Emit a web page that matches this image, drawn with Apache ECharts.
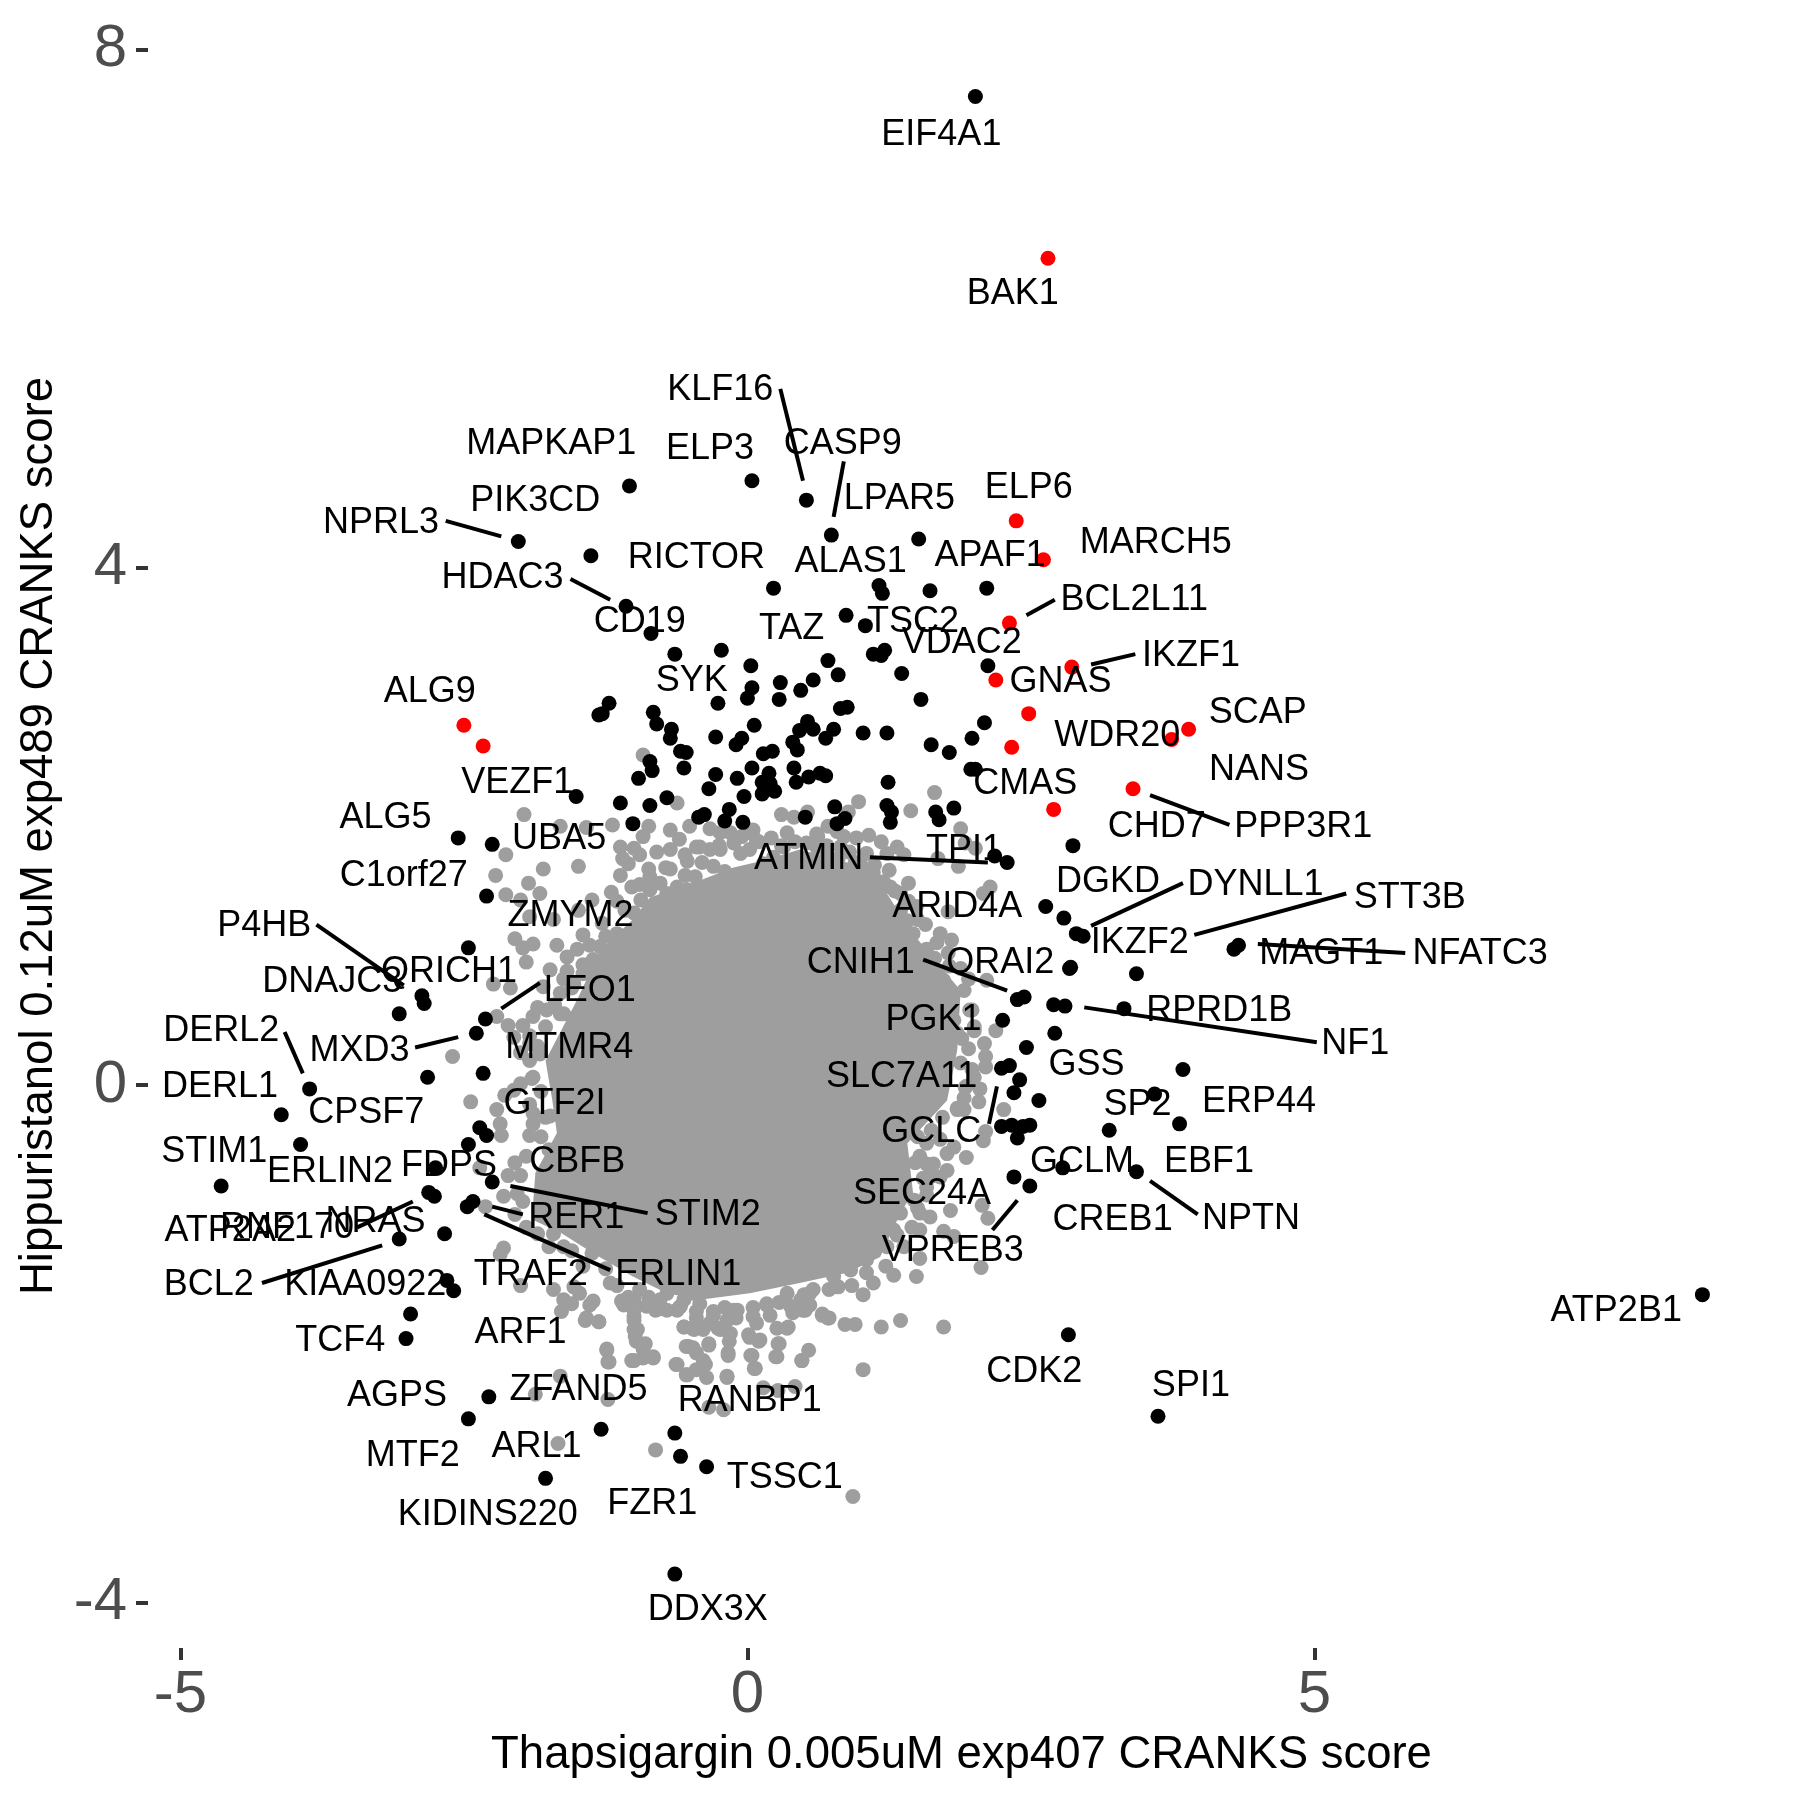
<!DOCTYPE html>
<html>
<head>
<meta charset="utf-8">
<script src="https://cdn.jsdelivr.net/npm/echarts@6/dist/echarts.min.js"></script>
<style>
  html, body { margin: 0; padding: 0; background: #fff; }
  #chart { width: 1800px; height: 1800px; }
</style>
</head>
<body>
<div id="chart"></div>
<script>
// axis ticks
const xTicks = [-5, 0, 5];
const yTicks = [-4, 0, 4, 8];

// hits highlighted in red
const redPoints = [
  [2.65,6.39],[2.37,4.36],[2.61,4.06],[2.31,3.57],[2.19,3.13],[2.86,3.23],[2.48,2.87],[2.33,2.61],
  [3.89,2.75],[3.74,2.67],[3.40,2.29],[2.70,2.13],[-2.50,2.78],[-2.33,2.62]
];

// other labelled / significant genes
const blackPoints = [
  [2.01,7.64],[-1.04,4.63],[0.04,4.67],[0.52,4.52],[0.74,4.25],[1.51,4.22],[-2.02,4.20],[-1.38,4.09],
  [0.23,3.84],[1.16,3.86],[1.19,3.80],[1.61,3.82],[2.11,3.84],
  [0.87,3.63],[1.04,3.55],[1.11,3.33],[1.18,3.32],[1.21,3.36],[1.36,3.18],[1.53,2.98],[2.12,3.24],
  [2.09,2.80],[1.98,2.68],[1.62,2.63],[1.78,2.57],[1.97,2.44],[2.01,2.44],[1.23,2.72],[1.02,2.72],
  [0.88,2.92],[0.82,2.91],[0.80,3.17],[0.71,3.28],[0.58,3.13],[0.47,3.05],[0.29,3.11],[0.28,2.98],
  [0.03,3.24],[0.04,3.07],[0.00,2.99],[-0.23,3.36],[-0.26,2.95],[0.06,2.78],[-0.28,2.69],[-0.05,2.68],
  [-0.10,2.63],[0.53,2.81],[0.46,2.74],[0.58,2.75],[0.76,2.75],[0.69,2.68],[0.40,2.65],[0.44,2.59],
  [0.22,2.58],[0.14,2.56],[0.04,2.45],[-0.28,2.40],[-0.09,2.37],[-0.34,2.29],[-0.03,2.23],[0.19,2.41],
  [0.13,2.34],[0.20,2.33],[0.13,2.25],[0.24,2.27],[0.41,2.45],[0.43,2.34],[0.54,2.38],[0.64,2.41],
  [0.69,2.39],[1.24,2.34],[1.23,2.16],[1.27,2.11],[1.26,2.03],[1.66,2.11],[1.69,2.05],[1.82,2.14],
  [0.77,2.15],[0.79,2.02],[0.86,2.06],[0.51,2.07],[-0.16,2.13],[-0.20,2.04],[-0.04,2.03],[-0.38,2.09],
  [2.18,1.77],[2.29,1.72],[2.87,1.85],[2.63,1.38],[2.79,1.29],[2.90,1.17],[2.96,1.15],[2.85,0.91],
  [2.44,0.68],[2.38,0.66],
  [-1.07,3.70],[-0.85,3.49],[-0.64,3.33],[-1.22,2.95],[-1.28,2.87],[-1.31,2.86],[-0.83,2.88],[-0.80,2.79],
  [-0.67,2.75],[-0.68,2.68],[-0.59,2.58],[-0.54,2.57],[-0.56,2.45],[-0.86,2.50],[-0.84,2.43],[-0.96,2.37],
  [-1.51,2.23],[-1.12,2.18],[-0.86,2.16],[-0.71,2.22],[-1.01,2.02],[-0.43,2.07],[-2.55,1.91],[-2.25,1.86],
  [-2.30,1.46],[-2.46,1.06],[-2.87,0.69],[-2.85,0.63],[-3.07,0.55],
  [-2.31,0.51],[-2.39,0.40],[-2.33,0.09],[-2.82,0.06],[-3.86,-0.03],[-2.36,-0.33],[-2.30,-0.39],[-2.46,-0.46],
  [-2.75,-0.64],[-2.25,-0.75],[-2.81,-0.83],[-2.76,-0.86],[-2.42,-0.90],[-2.47,-0.94],[-2.67,-1.15],[-3.07,-1.19],
  [-2.65,-1.51],[-2.59,-1.59],[-2.97,-1.77],[-3.01,-1.96],[-2.28,-2.41],[-3.94,-0.46],[-4.11,-0.23],[-4.64,-0.78],
  [2.25,0.50],[2.71,0.40],[2.46,0.29],[2.24,0.13],[2.31,0.15],[2.40,0.04],[2.35,-0.06],[2.57,-0.12],
  [2.24,-0.32],[2.33,-0.31],[2.43,-0.32],[2.49,-0.31],[2.38,-0.41],[2.78,-0.64],[2.35,-0.71],[2.49,-0.78],
  [2.83,-1.93],[2.70,0.62],[2.80,0.61],
  [3.43,0.86],[3.32,0.59],[3.84,0.12],[3.59,-0.07],[3.81,-0.30],[3.19,-0.35],[3.43,-0.67],[3.62,-2.56],
  [8.42,-1.62],[4.29,1.05],[4.33,1.08],[2.84,0.90],
  [-1.29,-2.66],[-0.64,-2.69],[-0.59,-2.87],[-0.36,-2.95],[-1.78,-3.04],[-0.64,-3.78],[-2.46,-2.58]
];

// grey points at the rim of the cloud, where they can still be told apart
const greyPoints = [
  [-0.92,2.55],[-0.62,2.18],[-1.97,2.09],[-1.65,2.00],[-1.42,1.99],[-1.19,2.01],[-2.13,1.78],[-2.22,1.62],
  [-1.80,1.67],[-1.49,1.69],[-2.13,1.47],[-1.93,1.56],[-1.83,1.48],[-2.00,1.43],[-1.92,1.30],[-1.71,1.28],
  [-1.49,1.35],[-1.37,1.43],[-1.20,1.49],[-2.05,1.13],[-1.89,1.09],[-1.98,1.06],[-1.95,0.95],[-1.68,1.08],
  [-1.59,0.99],[-1.45,1.16],[-1.39,1.08],[-1.45,0.93],[-1.74,0.89],[-1.59,0.88],[-2.24,0.78],[-2.09,0.75],
  [-1.80,0.76],[-1.12,1.84],[-1.00,1.83],[-0.92,1.92],[-0.87,2.00],[-1.05,1.71],[-1.12,1.62],[-0.87,1.67],
  [-0.68,1.97],[-0.68,1.82],[-0.68,1.67],[-0.51,2.00],[-0.53,1.73],[-0.46,1.61],[-0.86,1.61],[-1.02,1.53],
  [-0.77,1.56],[-0.62,1.53],[-0.45,1.84],
  [1.65,2.26],[1.44,2.12],[0.98,2.19],[0.89,2.11],[0.53,2.11],[0.30,2.09],[0.41,2.07],[0.05,1.97],
  [-0.15,1.95],[-0.33,1.98],[0.35,1.95],[0.21,1.91],[0.52,1.87],[0.71,2.00],[0.79,1.96],[0.96,1.91],
  [1.07,1.93],[1.18,1.88],[1.32,1.84],[1.38,1.78],[1.68,1.75],[1.88,1.98],[1.92,1.87],[2.01,1.83],
  [1.86,1.69],[1.42,1.56],[1.26,1.53],[1.20,1.57],[2.08,1.48],[2.14,1.53],[1.77,1.34],[1.57,1.24],
  [1.67,1.10],[1.80,1.12],[1.77,1.02],[2.11,0.81],[1.91,0.73],[1.73,0.81],[1.46,1.17],[1.35,1.35],
  [0.82,1.84],[0.70,1.79],[1.05,1.79],[0.02,1.82],[-0.30,1.69],[-0.06,1.79],[-0.33,1.82],[0.23,1.76],[0.55,1.74],
  [-2.60,0.22],[-2.44,-0.13],[-2.21,0.53],[-2.11,0.46],[-1.98,0.46],[-2.06,0.37],[-1.92,0.19],[-2.00,0.01],
  [-2.14,-0.08],[-2.21,-0.19],[-2.18,-0.30],[-2.17,-0.39],[-1.89,-0.30],[-1.92,-0.39],[-2.11,-0.70],[-2.00,-0.70],
  [-2.36,-0.64],[-2.31,-0.94],[-2.15,-0.86],[-2.03,-0.84],[-2.15,-1.26],[-2.18,-1.31],[-2.00,-1.55],[-1.71,-1.15],
  [-1.62,-1.25],[-1.37,-1.30],[-1.36,-1.17],[-1.71,-1.58],[-1.62,-1.66],[-1.48,-1.61],[-1.36,-1.67],[-1.21,-1.53],
  [-1.11,-1.67],[-1.00,-1.79],[-0.97,-1.89],[-0.90,-2.00],[-0.83,-2.10],[-1.00,-2.13],[-0.92,-2.11],[-1.24,-2.05],
  [-1.22,-2.14],[-1.43,-1.82],[-1.31,-1.83],[-0.87,-1.64],[-0.77,-1.73],[-0.56,-1.87],[-0.52,-2.02],[-0.62,-2.16],
  [-0.53,-2.24],[-0.45,-2.07],[-0.47,-1.89],[-0.71,-1.61],[-1.05,-1.64],[-1.53,-1.56],
  [2.19,0.42],[2.09,0.32],[1.89,0.36],[2.10,0.22],[2.10,0.14],[2.05,-0.03],[2.04,-0.13],[1.91,-0.10],
  [2.26,-0.19],[2.10,-0.36],[2.08,-0.43],[1.93,-0.56],[1.76,-0.53],[1.76,-0.66],[1.52,-0.55],[1.58,-0.61],
  [1.61,-0.71],[1.79,-0.97],[2.07,-0.93],[2.12,-1.03],[1.61,-1.02],[1.52,-1.12],[1.73,-1.13],[1.82,-1.17],
  [1.32,-1.16],[2.06,-1.41],[1.52,-1.34],[1.49,-1.48],[1.29,-1.47],[1.11,-1.53],[1.02,-1.62],[0.80,-1.56],
  [0.66,-1.78],[0.72,-1.80],[0.86,-1.85],[0.95,-1.85],[1.18,-1.87],[1.35,-1.82],[1.73,-1.87],[1.02,-2.20],
  [0.54,-2.05],[0.48,-2.13],[0.28,-2.00],[0.26,-2.10],[0.07,-2.19],[0.04,-2.09],[-0.17,-2.07],[-0.18,-2.25],
  [-0.34,-2.01],[-0.37,-2.16],[0.11,-1.97],[0.02,-1.95],[-0.20,-1.89],[0.26,-1.88],[0.36,-1.87],[0.49,-1.74],
  [0.17,-1.69],[-0.09,-1.74],[-0.33,-1.84],[0.58,-1.58],[0.35,-1.61],[0.42,-2.33],[0.14,-2.34],
  [0.93,-3.18],[-0.81,-2.82],[-1.67,-2.77],[-1.87,-2.39],[-1.65,-2.25],[-1.23,-2.43],[-1.24,-2.04],[-1.23,-2.14],
  [-1.02,-2.13],[-0.83,-2.11],[-0.92,-2.04],[-0.99,-1.94],[-1.00,-1.82],[-1.42,-1.80],[-1.31,-1.83],[-0.63,-2.16],
  [-0.54,-2.24],[-0.45,-2.20],[-0.36,-2.26],[-0.39,-2.13],[-0.18,-2.26],[-0.34,-2.49],[-0.21,-2.51],[0.27,-2.36],
  [0.06,-2.19],[0.03,-2.09],[0.25,-2.10],[0.27,-2.00],[0.48,-2.13],[-0.17,-2.09],[-0.16,-1.98],[-0.34,-2.00],
  [-0.54,-2.02],[-0.48,-2.03],[-0.56,-1.87],[-0.42,-1.87],[-0.24,-1.89],[0.01,-1.93],[0.10,-1.98],[0.35,-1.88],
  [0.66,-1.77],[0.71,-1.80],[-0.30,-1.75],[-0.10,-1.80],[0.20,-1.78],[0.40,-1.76],[0.55,-1.70],
  [-1.10,1.75],[-0.95,1.78],[-0.80,1.80],[-0.60,1.90],[-0.55,1.78],[-0.40,1.72],[-0.25,1.85],[-0.20,1.65],
  [-0.05,1.92],[0.10,1.88],[0.30,1.85],[0.42,1.88],[0.62,1.92],[0.90,1.80],[1.00,1.70],[1.12,1.70],
  [1.25,1.66],[1.10,1.60],[0.95,1.72],[0.70,1.85],[-0.95,1.55],[-0.72,1.68],[-0.55,1.62],[-1.15,1.42],
  [-1.08,1.35],[-1.28,1.25],[-1.25,1.15],[-1.50,1.05],[-1.38,0.92],[-1.62,0.82],[-1.55,0.75],[-1.70,0.62],
  [-1.62,0.55],[-1.85,0.60],[-1.78,0.45],[-1.92,0.38],[-1.85,0.30],[-2.00,0.25],[-1.90,0.05],[-1.82,-0.05],
  [-1.92,-0.15],[-1.78,-0.25],[-1.82,-0.40],[-1.75,-0.50],[-1.95,-0.55],[-2.05,-0.60],[-1.98,-0.90],[-2.05,-1.00],
  [-1.95,-1.10],[-1.85,-1.15],[-1.75,-1.25],[-1.55,-1.28],[-1.45,-1.40],[-1.25,-1.42],[-1.15,-1.55],[-0.95,-1.58],
  [-0.82,-1.70],[-0.60,-1.72],[-0.45,-1.75],[-0.20,-1.72],[0.05,-1.72],[0.28,-1.68],[0.50,-1.62],[0.72,-1.58],
  [0.92,-1.55],[1.05,-1.45],[1.22,-1.40],[1.38,-1.25],[1.45,-1.10],[1.50,-0.95],[1.58,-0.85],[1.55,-0.72],
  [1.48,-0.60],[1.50,-0.40],[1.62,-0.35],[1.72,-0.25],[1.85,-0.18],[1.92,-0.02],[1.98,0.12],[1.95,0.28],
  [2.00,0.42],[1.98,0.58],[1.95,0.82],[1.88,0.90],[1.78,0.92],[1.65,0.98],[1.58,1.05],[1.50,1.28],
  [1.42,1.42],[1.30,1.50],[1.05,1.62],[0.80,1.75],
  [-0.71,-1.74],[-0.62,-1.74],[-0.89,-1.71],[-0.77,-1.66],[-1.00,-1.66],[-0.47,-1.61],[-0.56,-1.66],
  [-1.00,-1.74],[-1.09,-1.70],[-0.81,-1.74],[-0.59,-1.71],[-0.42,-1.69],[-0.12,-1.74],[0.05,-1.79],[0.08,-1.84],
  [0.41,-1.74],[0.51,-1.74],[0.17,-1.70],[-0.45,-1.80],[-0.30,-1.78],[-0.18,-1.82],[-0.26,-1.88],[-0.15,-1.92],
  [-0.49,-1.88],[-0.39,-1.89],[-1.00,-1.89],[-0.98,-1.98],[-0.92,-2.02],[-1.64,-1.75],[-1.55,-1.69],[-1.39,-1.70],
  [-0.24,1.95],[-0.12,1.87],[0.00,1.95],[0.08,1.89],[-0.42,1.84],[-0.24,1.82],[0.14,1.71],[0.32,1.84],
  [0.41,1.71],[0.61,1.84],[0.85,1.92],[0.61,1.94],[1.23,1.79],[0.99,1.71],[1.11,1.64],[1.35,1.48],
  [1.49,1.38],[1.41,1.27],[1.70,1.17],
  [1.85,0.40],[1.82,0.50],[2.00,0.45],[1.96,0.58],[1.88,0.17],[2.00,0.06],[1.93,-0.01],[1.85,-0.19],
  [1.91,-0.19],[1.70,-0.42],[1.82,-0.48],[1.58,-0.45],[1.64,-0.61],[1.70,-0.71],[1.58,-0.79],[1.47,-0.89],
  [1.52,-0.99],[1.35,-0.99],[1.29,-1.12],[1.23,-1.25],[1.05,-1.35],[0.91,-1.43],[0.76,-1.48],[0.55,-1.61],
  [0.47,-1.66],[0.38,-1.71],
  [-1.30,1.07],[-1.15,1.17],[-1.00,1.33],[-0.94,1.43],[-1.36,0.97],[-1.45,0.86],[-1.53,0.78],[-1.65,0.71],
  [-0.86,1.51],[-0.71,1.48],[-0.53,1.51],[-1.89,0.53],[-1.77,0.58],[-1.65,0.55],[-1.92,0.32],[-1.83,0.24],
  [-1.65,0.09],[-1.89,0.06],[-2.06,-0.04],[-1.74,-0.24],[-1.89,-0.22]
];

// outline of the solid middle of the cloud, too overplotted to separate into points
const coreOutline = [
  [-0.42,1.58],[-0.86,1.45],[-1.01,1.28],[-1.30,1.04],[-1.50,0.66],[-1.78,0.19],[-1.72,-0.12],[-1.68,-0.37],
  [-1.87,-0.68],[-1.90,-1.04],[-1.65,-1.14],[-1.36,-1.30],[-1.01,-1.48],[-0.71,-1.61],[-0.42,-1.66],[0.02,-1.61],
  [0.46,-1.53],[0.88,-1.45],[1.17,-1.33],[1.35,-0.99],[1.46,-0.83],[1.41,-0.45],[1.76,-0.12],[1.85,0.27],
  [1.88,0.73],[1.46,1.17],[1.17,1.56],[0.88,1.72],[0.46,1.82],[0.17,1.74],[-0.13,1.68]
];

// gene name, label centre x, label centre y
const geneLabels = [
  ['EIF4A1',1.71,7.36],['BAK1',2.34,6.13],['KLF16',-0.24,5.39],['MAPKAP1',-1.73,4.97],['ELP3',-0.33,4.93],
  ['CASP9',0.84,4.97],['PIK3CD',-1.87,4.53],['LPAR5',1.34,4.54],['ELP6',2.48,4.63],['NPRL3',-3.23,4.36],
  ['MARCH5',3.60,4.20],['RICTOR',-0.45,4.09],['ALAS1',0.91,4.06],['APAF1',2.14,4.10],['HDAC3',-2.16,3.93],
  ['BCL2L11',3.41,3.76],['CD19',-0.95,3.59],['TAZ',0.39,3.54],['TSC2',1.46,3.59],['VDAC2',1.89,3.43],
  ['IKZF1',3.91,3.33],['SYK',-0.49,3.14],['GNAS',2.76,3.13],['ALG9',-2.80,3.05],['SCAP',4.50,2.89],
  ['WDR20',3.26,2.71],['NANS',4.51,2.45],['VEZF1',-2.03,2.35],['CMAS',2.45,2.34],['ALG5',-3.19,2.08],
  ['CHD7',3.61,2.01],['PPP3R1',4.90,2.01],['UBA5',-1.66,1.92],['TPI1',1.91,1.83],['ATMIN',0.54,1.76],
  ['C1orf27',-3.03,1.63],['DGKD',3.18,1.58],['DYNLL1',4.48,1.56],['STT3B',5.84,1.46],['ARID4A',1.85,1.39],
  ['ZMYM2',-1.56,1.32],['P4HB',-4.26,1.24],['IKZF2',3.46,1.11],['MAGT1',5.06,1.03],['NFATC3',6.46,1.03],
  ['CNIH1',1.00,0.96],['ORAI2',2.23,0.96],['QRICH1',-2.63,0.89],['DNAJC3',-3.66,0.81],['LEO1',-1.39,0.74],
  ['RPRD1B',4.16,0.59],['PGK1',1.64,0.52],['DERL2',-4.64,0.43],['NF1',5.36,0.33],['MXD3',-3.42,0.28],
  ['MTMR4',-1.57,0.30],['GSS',2.99,0.17],['SLC7A11',1.36,0.08],['DERL1',-4.65,0.00],['GTF2I',-1.70,-0.13],
  ['SP2',3.44,-0.14],['ERP44',4.51,-0.12],['CPSF7',-3.36,-0.20],['GCLC',1.62,-0.35],['STIM1',-4.70,-0.50],
  ['GCLM',2.95,-0.58],['CBFB',-1.50,-0.58],['EBF1',4.07,-0.58],['FDPS',-2.63,-0.61],['ERLIN2',-3.68,-0.66],
  ['SEC24A',1.54,-0.83],['STIM2',-0.35,-0.99],['RER1',-1.51,-1.01],['NPTN',4.44,-1.02],['CREB1',3.22,-1.03],
  ['NRAS',-3.28,-1.04],['ATP2A2',-4.56,-1.11],['RNF170',-4.06,-1.09],['VPREB3',1.81,-1.27],['ERLIN1',-0.61,-1.45],
  ['TRAF2',-1.91,-1.45],['KIAA0922',-3.37,-1.53],['BCL2',-4.75,-1.53],['ATP2B1',7.66,-1.73],['ARF1',-2.00,-1.90],
  ['TCF4',-3.59,-1.96],['CDK2',2.53,-2.20],['SPI1',3.91,-2.31],['ZFAND5',-1.49,-2.34],['AGPS',-3.09,-2.39],
  ['RANBP1',0.02,-2.43],['ARL1',-1.86,-2.78],['MTF2',-2.95,-2.85],['TSSC1',0.33,-3.02],['FZR1',-0.84,-3.22],
  ['KIDINS220',-2.29,-3.31],['DDX3X',-0.35,-4.04]
];

// repel segments: [x1, y1, x2, y2]
const repelSegments = [
  [0.29,5.38,0.49,4.67],[0.85,4.82,0.76,4.39],[-2.66,4.36,-2.17,4.24],[-1.56,3.91,-1.21,3.75],
  [2.71,3.75,2.46,3.63],[3.42,3.33,3.03,3.25],[4.25,2.01,3.55,2.24],[1.08,1.76,2.12,1.72],
  [3.84,1.56,3.03,1.23],[5.28,1.48,3.94,1.16],[5.80,1.02,4.50,1.09],[-3.80,1.24,-3.03,0.77],
  [1.55,0.97,2.29,0.73],[5.02,0.33,2.97,0.60],[-1.83,0.79,-2.17,0.59],[-2.93,0.29,-2.55,0.37],
  [-4.08,0.41,-3.92,0.09],[2.20,-0.01,2.13,-0.30],[2.38,-0.89,2.16,-1.12],[3.97,-1.00,3.55,-0.74],
  [-2.09,-0.78,-0.88,-0.99],[-2.25,-0.94,-1.98,-1.00],[-2.32,-1.00,-1.21,-1.43],[-2.95,-0.90,-3.44,-1.10],
  [-4.28,-1.53,-3.22,-1.24]
];

const FONT = '"Liberation Sans", Arial, sans-serif';
const GREY = '#9E9E9E';

const chart = echarts.init(document.getElementById('chart'), null, { renderer: 'canvas' });

const option = {
  animation: false,
  backgroundColor: '#fff',
  grid: { left: 148, right: 25, top: 24, bottom: 152, outerBoundsMode: 'none' },
  xAxis: {
    type: 'value',
    min: -5.285,
    max: 9.06,
    name: 'Thapsigargin 0.005uM exp407 CRANKS score',
    nameLocation: 'middle',
    nameGap: 84,
    nameTextStyle: { fontFamily: FONT, fontSize: 45.5, color: '#000' },
    splitLine: { show: false },
    axisLine: { show: false, onZero: false },
    axisTick: { show: true, length: 12, customValues: xTicks, lineStyle: { color: '#333', width: 4 } },
    axisLabel: { customValues: xTicks, fontFamily: FONT, fontSize: 60, color: '#4D4D4D', margin: 17 }
  },
  yAxis: {
    type: 'value',
    min: -4.351,
    max: 8.2,
    name: 'Hippuristanol 0.12uM exp489 CRANKS score',
    nameLocation: 'middle',
    nameGap: 82,
    nameTextStyle: { fontFamily: FONT, fontSize: 45.5, color: '#000' },
    splitLine: { show: false },
    axisLine: { show: false, onZero: false },
    axisTick: { show: true, length: 12, customValues: yTicks, lineStyle: { color: '#333', width: 4 } },
    axisLabel: { customValues: yTicks, fontFamily: FONT, fontSize: 60, color: '#4D4D4D', margin: 21 }
  },
  series: [
    {
      type: 'custom',
      name: 'core',
      z: 1,
      silent: true,
      data: [coreOutline[0]],
      renderItem: function (params, api) {
        return {
          type: 'polygon',
          shape: { points: coreOutline.map(p => api.coord(p)) },
          style: { fill: GREY }
        };
      }
    },
    { type: 'scatter', name: 'grey', z: 2, symbolSize: 15, itemStyle: { color: GREY, opacity: 1 }, data: greyPoints },
    { type: 'scatter', name: 'black', z: 3, symbolSize: 15, itemStyle: { color: '#000', opacity: 1 }, data: blackPoints },
    { type: 'scatter', name: 'red', z: 4, symbolSize: 15, itemStyle: { color: '#FF0000', opacity: 1 }, data: redPoints },
    {
      type: 'custom',
      name: 'segments',
      z: 5,
      silent: true,
      data: repelSegments,
      encode: { x: [0, 2], y: [1, 3] },
      renderItem: function (params, api) {
        const a = api.coord([api.value(0), api.value(1)]);
        const b = api.coord([api.value(2), api.value(3)]);
        return {
          type: 'line',
          shape: { x1: a[0], y1: a[1], x2: b[0], y2: b[1] },
          style: { stroke: '#000', lineWidth: 4 }
        };
      }
    },
    {
      type: 'custom',
      name: 'labels',
      z: 6,
      silent: true,
      data: geneLabels.map(d => [d[1], d[2]]),
      encode: { x: 0, y: 1 },
      renderItem: function (params, api) {
        const pos = api.coord([api.value(0), api.value(1)]);
        return {
          type: 'text',
          x: pos[0],
          y: pos[1] + 2,
          style: {
            text: geneLabels[params.dataIndex][0],
            fill: '#000',
            font: '36px ' + FONT,
            align: 'center',
            verticalAlign: 'middle'
          }
        };
      }
    }
  ]
};

chart.setOption(option);
</script>
</body>
</html>
